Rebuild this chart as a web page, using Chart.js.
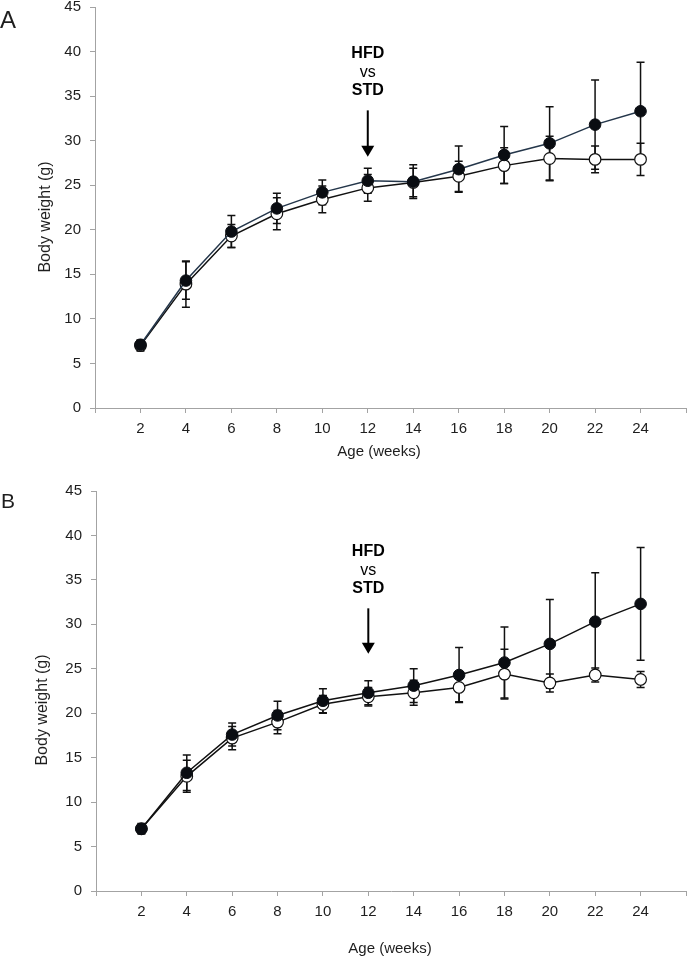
<!DOCTYPE html>
<html>
<head>
<meta charset="utf-8">
<script src="https://cdn.jsdelivr.net/npm/chart.js@4.4.1/dist/chart.umd.min.js"></script>
<style>
  html, body { margin: 0; padding: 0; background: #ffffff; }
  body { width: 693px; height: 957px; position: relative; overflow: hidden; }
  canvas { position: absolute; left: 0; }
  #cA { top: 0; }
  #cB { top: 470px; }
</style>
</head>
<body>
<canvas id="cA" width="693" height="470"></canvas>
<canvas id="cB" width="693" height="487"></canvas>
<script>
// ---- data ----
const weeks = [2, 4, 6, 8, 10, 12, 14, 16, 18, 20, 22, 24];
const xTickValues = [2, 4, 6, 8, 10, 12, 14, 16, 18, 20, 22, 24];
const yTickValues = [0, 5, 10, 15, 20, 25, 30, 35, 40, 45];

// Panel A
const hfdA   = [7.1, 14.3, 19.8, 22.4, 24.2, 25.5, 25.4, 26.8, 28.4, 29.7, 31.8, 33.3];
const hfdSdA = [0.5, 2.1, 1.8, 1.7, 1.4, 1.4, 1.9, 2.6, 3.2, 4.1, 5.0, 5.5];
const stdA   = [7.0, 13.9, 19.3, 21.8, 23.4, 24.7, 25.3, 26.0, 27.2, 28.0, 27.9, 27.9];
const stdSdA = [0.6, 2.6, 1.3, 1.8, 1.5, 1.5, 1.6, 1.7, 2.0, 2.5, 1.5, 1.8];

// Panel B
const hfdB   = [7.0, 13.3, 17.6, 19.75, 21.4, 22.3, 23.1, 24.3, 25.7, 27.8, 30.3, 32.3];
const hfdSdB = [0.5, 2.0, 1.3, 1.6, 1.35, 1.35, 1.9, 3.1, 4.0, 5.0, 5.5, 6.35];
const stdB   = [7.0, 12.9, 17.2, 19.0, 21.0, 21.85, 22.3, 22.9, 24.4, 23.4, 24.3, 23.8];
const stdSdB = [0.6, 1.8, 1.3, 1.3, 1.0, 1.05, 1.4, 1.6, 2.8, 1.0, 0.8, 0.9];

const xLabel = 'Age (weeks)';
const yLabel = 'Body weight (g)';
const annotationLines = ['HFD', 'vs', 'STD'];
const annotationWeek = 12;

const FONT = '"Liberation Sans", Arial, Helvetica, sans-serif';
const AXIS_COLOR = '#a3a3a3';
const TEXT_COLOR = '#1e1e1e';

// ---- plugins ----
const errorBarPlugin = {
  id: 'errorBars',
  beforeDatasetsDraw(chart) {
    const ctx = chart.ctx;
    const yScale = chart.scales.y;
    ctx.save();
    ctx.strokeStyle = '#111111';
    ctx.lineWidth = 1.5;
    chart.data.datasets.forEach((ds, di) => {
      const meta = chart.getDatasetMeta(di);
      meta.data.forEach((pt, i) => {
        const v = ds.data[i].y;
        const sd = ds.errors[i];
        const x = pt.x;
        const yTop = yScale.getPixelForValue(v + sd);
        const yBot = yScale.getPixelForValue(v - sd);
        ctx.beginPath();
        ctx.moveTo(x, yTop); ctx.lineTo(x, yBot);
        ctx.moveTo(x - 4, yTop); ctx.lineTo(x + 4, yTop);
        ctx.moveTo(x - 4, yBot); ctx.lineTo(x + 4, yBot);
        ctx.stroke();
      });
    });
    ctx.restore();
  }
};

const panelTextPlugin = {
  id: 'panelText',
  afterDraw(chart, args, opts) {
    const ctx = chart.ctx;
    const xs = chart.scales.x, ys = chart.scales.y;
    ctx.save();
    ctx.fillStyle = TEXT_COLOR;
    // panel letter
    ctx.font = opts.letterSize + 'px ' + FONT;
    ctx.textAlign = 'left';
    ctx.textBaseline = 'alphabetic';
    ctx.fillText(opts.letter, opts.letterPos[0], opts.letterPos[1]);
    // axis titles
    ctx.font = '15px ' + FONT;
    ctx.textAlign = 'center';
    ctx.textBaseline = 'middle';
    ctx.fillText(xLabel, opts.xTitlePos[0], opts.xTitlePos[1]);
    ctx.save();
    ctx.font = '16px ' + FONT;
    ctx.translate(opts.yTitlePos[0], opts.yTitlePos[1]);
    ctx.rotate(-Math.PI / 2);
    ctx.fillText(yLabel, 0, 0);
    ctx.restore();
    // annotation: HFD vs STD + arrow
    const ax = xs.getPixelForValue(annotationWeek);
    const aTop = ys.getPixelForValue(opts.arrowFrom);
    const aTip = ys.getPixelForValue(opts.arrowTo);
    ctx.fillStyle = '#000000';
    ctx.font = 'bold 16px ' + FONT;
    ctx.fillText(annotationLines[0], ax, aTop - 57);
    ctx.font = '16px ' + FONT;
    ctx.fillText(annotationLines[1], ax, aTop - 38);
    ctx.font = 'bold 16px ' + FONT;
    ctx.fillText(annotationLines[2], ax, aTop - 20);
    ctx.strokeStyle = '#000000';
    ctx.lineWidth = 2;
    ctx.beginPath();
    ctx.moveTo(ax, aTop);
    ctx.lineTo(ax, aTip - 10);
    ctx.stroke();
    ctx.beginPath();
    ctx.moveTo(ax - 6.5, aTip - 11);
    ctx.lineTo(ax + 6.5, aTip - 11);
    ctx.lineTo(ax, aTip);
    ctx.closePath();
    ctx.fill();
    ctx.restore();
  }
};

function pairs(vals) {
  return weeks.map((w, i) => ({ x: w, y: vals[i] }));
}

function makeChart(canvasId, hfd, hfdSd, std, stdSd, cfg) {
  return new Chart(document.getElementById(canvasId), {
    type: 'line',
    data: {
      datasets: [
        {
          label: 'HFD',
          data: pairs(hfd),
          errors: hfdSd,
          borderColor: cfg.hfdLine,
          borderWidth: 1.5,
          backgroundColor: '#0a0d12',
          pointBackgroundColor: '#0a0d12',
          pointBorderColor: '#0a0d12',
          pointBorderWidth: 1,
          pointRadius: 5.8,
          tension: 0,
          fill: false
        },
        {
          label: 'STD',
          data: pairs(std),
          errors: stdSd,
          borderColor: '#111111',
          borderWidth: 1.5,
          backgroundColor: '#ffffff',
          pointBackgroundColor: '#ffffff',
          pointBorderColor: '#111111',
          pointBorderWidth: 1.2,
          pointRadius: 5.8,
          tension: 0,
          fill: false
        }
      ]
    },
    options: {
      responsive: false,
      animation: false,
      events: [],
      layout: { padding: { left: 0, right: cfg.padRight, top: cfg.padTop, bottom: 0 } },
      plugins: {
        legend: { display: false },
        tooltip: { enabled: false },
        panelText: cfg.text
      },
      scales: {
        x: {
          type: 'linear',
          min: 0,
          max: 26,
          afterBuildTicks(scale) {
            scale.ticks = [0].concat(xTickValues, [26]).map(v => ({ value: v }));
          },
          afterFit(scale) {
            scale.height = cfg.xHeight;
            scale.paddingLeft = 0;
            scale.paddingRight = 0;
          },
          ticks: {
            autoSkip: false,
            maxRotation: 0,
            padding: 7,
            color: TEXT_COLOR,
            font: { family: FONT, size: 15 },
            callback: (v) => (xTickValues.includes(v) ? String(v) : '')
          },
          grid: { drawOnChartArea: false, drawTicks: true, tickLength: 5, color: AXIS_COLOR, lineWidth: 1 },
          border: { color: AXIS_COLOR, width: 1 },
          title: { display: false }
        },
        y: {
          type: 'linear',
          min: 0,
          max: 45,
          afterBuildTicks(scale) {
            scale.ticks = yTickValues.map(v => ({ value: v }));
          },
          afterFit(scale) {
            scale.width = cfg.yWidth;
            scale.paddingTop = 0;
            scale.paddingBottom = 0;
          },
          ticks: {
            padding: 9,
            color: TEXT_COLOR,
            font: { family: FONT, size: 15 }
          },
          grid: { drawOnChartArea: false, drawTicks: true, tickLength: 5, color: AXIS_COLOR, lineWidth: 1 },
          border: { color: AXIS_COLOR, width: 1 },
          title: { display: false }
        }
      }
    },
    plugins: [errorBarPlugin, panelTextPlugin]
  });
}

makeChart('cA', hfdA, hfdSdA, stdA, stdSdA, {
  hfdLine: '#24364a',
  padRight: 4,
  padTop: 6,
  xHeight: 62,
  yWidth: 95,
  text: {
    letter: 'A', letterSize: 24, letterPos: [0, 28],
    xTitlePos: [379, 452],
    yTitlePos: [46, 217],
    arrowFrom: 33.4, arrowTo: 28.2
  }
});

makeChart('cB', hfdB, hfdSdB, stdB, stdSdB, {
  hfdLine: '#111111',
  padRight: 1,
  padTop: 21,
  xHeight: 66,
  yWidth: 96,
  text: {
    letter: 'B', letterSize: 21, letterPos: [1, 38],
    xTitlePos: [390, 479],
    yTitlePos: [43, 240],
    arrowFrom: 31.8, arrowTo: 26.7
  }
});
</script>
</body>
</html>
